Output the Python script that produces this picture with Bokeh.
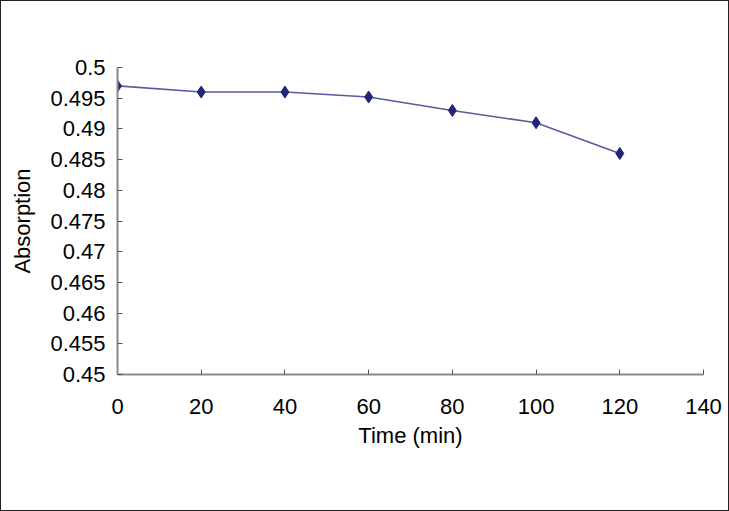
from bokeh.plotting import figure
from bokeh.embed import file_html
from bokeh.resources import INLINE
from bokeh.models import Range1d, FixedTicker

time_min = [0, 20, 40, 60, 80, 100, 120]
absorption = [0.497, 0.496, 0.496, 0.4952, 0.493, 0.491, 0.486]
x_ticks = [0, 20, 40, 60, 80, 100, 120, 140]
y_ticks = [0.45, 0.455, 0.46, 0.465, 0.47, 0.475, 0.48, 0.485, 0.49, 0.495, 0.5]

p = figure(width=729, height=511, output_backend="svg", toolbar_location=None,
           x_range=Range1d(0, 140), y_range=Range1d(0.45, 0.5),
           min_border_left=116, min_border_right=27, min_border_top=66, min_border_bottom=138)
p.styles = {"border": "1px solid #222222", "box-sizing": "border-box"}
p.outline_line_color = None
p.grid.visible = False
p.background_fill_color = "white"
p.border_fill_color = "white"

p.line(time_min, absorption, line_color="#5a5a9e", line_width=1.6)
p.scatter(time_min, absorption, marker="diamond", size=12, fill_color="#23237a", line_color="#23237a")

p.xaxis.ticker = FixedTicker(ticks=x_ticks)
p.yaxis.ticker = FixedTicker(ticks=y_ticks)
p.yaxis.major_label_overrides = {t: ("%g" % t) for t in y_ticks}

for ax in (p.xaxis, p.yaxis):
    ax.axis_line_color = "#8a8a8a"
    ax.axis_line_width = 2
    ax.major_tick_line_color = "#555555"
    ax.major_tick_in = 5
    ax.major_tick_out = 0
    ax.minor_tick_line_color = None
    ax.major_label_text_font = "Liberation Sans"
    ax.major_label_text_font_size = "22px"
    ax.major_label_text_color = "black"
    ax.axis_label_text_font = "Liberation Sans"
    ax.axis_label_text_font_size = "22px"
    ax.axis_label_text_font_style = "normal"
    ax.axis_label_text_color = "black"

p.xaxis.axis_label = "Time (min)"
p.yaxis.axis_label = "Absorption"
p.xaxis.major_label_standoff = 24
p.yaxis.major_label_standoff = 12
p.xaxis.axis_label_standoff = 6
p.yaxis.axis_label_standoff = 12

open("out.html", "w").write(file_html(p, INLINE))
